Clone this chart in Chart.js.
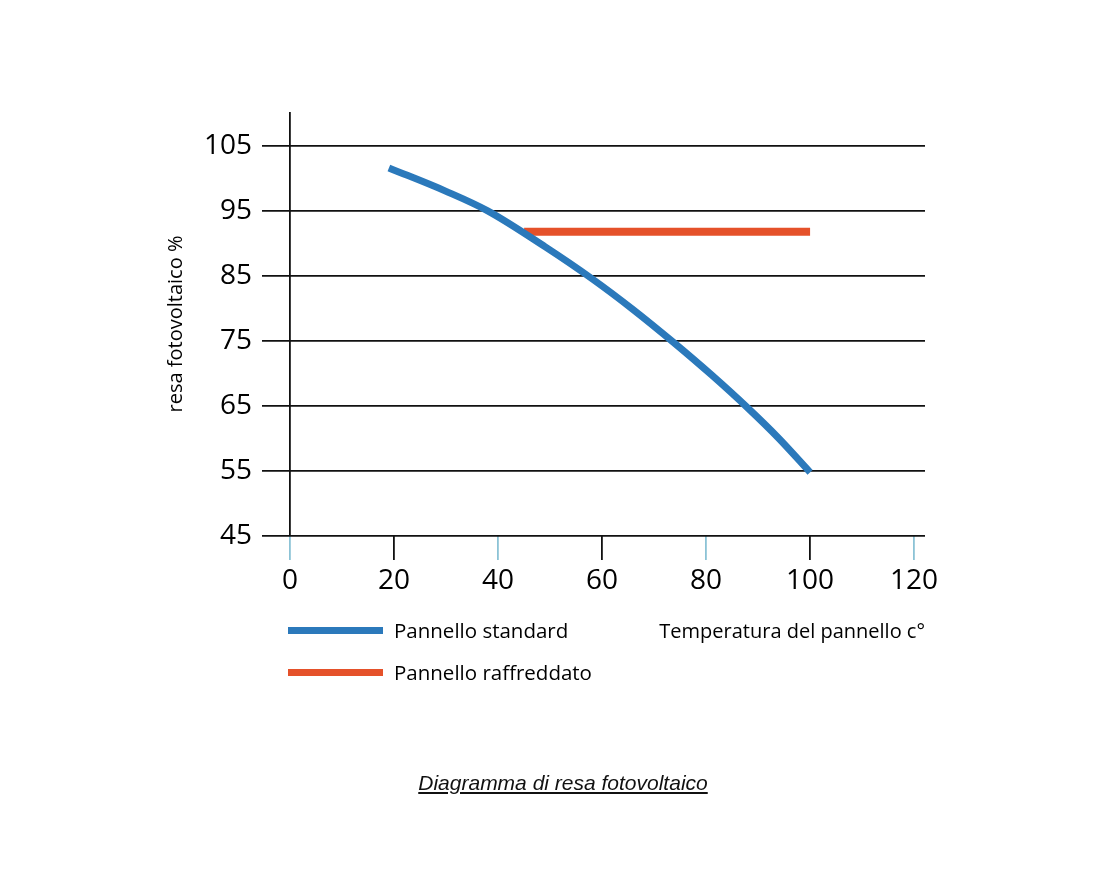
<!DOCTYPE html>
<html lang="it">
<head>
<meta charset="utf-8">
<title>Diagramma di resa fotovoltaico</title>
<script src="https://cdn.jsdelivr.net/npm/chart.js@4.4.1/dist/chart.umd.min.js"></script>
<style>
  body { margin: 0; background: #fff; }
  #wrap { position: relative; width: 1100px; height: 892px; }
  #chart { position: absolute; left: 0; top: 0; }
  .legend-row { position: absolute; left: 288px; height: 24px; display: flex; align-items: center;
    font-family: "Open Sans", sans-serif; font-size: 20.5px; color: #000; }
  .legend-row .swatch { width: 95px; height: 7px; margin-right: 11px; }
  #caption { position: absolute; left: 0; width: 1126px; top: 771px; text-align: center;
    font-family: "Liberation Sans", Arial, sans-serif; font-style: italic; font-size: 21px;
    color: #111; text-decoration: underline; }
</style>
</head>
<body>
<div id="wrap">
  <canvas id="chart" width="1100" height="892"></canvas>
  <div id="legend"></div>
  <div id="caption">Diagramma di resa fotovoltaico</div>
</div>
<script>
// values
const xTicks = [0, 20, 40, 60, 80, 100, 120];
const yTicks = [45, 55, 65, 75, 85, 95, 105];

const stdTemp = [19, 30, 38, 49, 58, 66, 74, 81, 88, 94, 100];
const stdYield = [101.6, 98.0, 95.0, 89.5, 84.6, 79.8, 74.6, 69.8, 64.7, 60.0, 54.8];

const coolTemp = [45, 100];
const coolYield = [91.8, 91.8];

const seriesLabels = ["Pannello standard", "Pannello raffreddato"];
const seriesColors = ["#2b79bb", "#e5512a"];

const FONT = "'Open Sans', sans-serif";

const toPoints = (xs, ys) => xs.map((x, i) => ({ x, y: ys[i] }));

const chart = new Chart(document.getElementById("chart"), {
  type: "line",
  data: {
    datasets: [
      {
        label: seriesLabels[0],
        data: toPoints(stdTemp, stdYield),
        borderColor: seriesColors[0],
        borderWidth: 7,
        borderCapStyle: "butt",
        cubicInterpolationMode: "monotone",
        pointRadius: 0,
        order: 0,
      },
      {
        label: seriesLabels[1],
        data: toPoints(coolTemp, coolYield),
        borderColor: seriesColors[1],
        borderWidth: 8,
        borderCapStyle: "butt",
        pointRadius: 0,
        order: 1,
      },
    ],
  },
  options: {
    responsive: false,
    animation: false,
    layout: { padding: { left: 0, top: 112, right: 175, bottom: 248 } },
    plugins: { legend: { display: false }, tooltip: { enabled: false } },
    scales: {
      x: {
        type: "linear",
        min: -5.4,
        max: 122.1,
        afterBuildTicks: (s) => { s.ticks = xTicks.map((v) => ({ value: v })); },
        afterFit: (s) => { s.height = 108; },
        border: { display: false },
        grid: {
          drawOnChartArea: true,
          drawTicks: true,
          tickLength: 24,
          lineWidth: 1.8,
          color: (ctx) => (ctx.tick && ctx.tick.value === 0 ? "#111" : "rgba(0,0,0,0)"),
          tickColor: (ctx) => ([20, 60, 100].includes(ctx.tick && ctx.tick.value) ? "#111" : "#8cc3d6"),
        },
        ticks: {
          padding: 4,
          color: "#000",
          font: { family: FONT, size: 28 },
          maxRotation: 0,
        },
        title: {
          display: true,
          text: "Temperatura del pannello c°",
          align: "end",
          color: "#000",
          font: { family: FONT, size: 20 },
          padding: { top: 0, bottom: 0 },
        },
      },
      y: {
        min: 45,
        max: 110.2,
        afterBuildTicks: (s) => { s.ticks = yTicks.map((v) => ({ value: v })); },
        afterFit: (s) => { s.width = 262; },
        border: { display: false },
        grid: { drawTicks: false, lineWidth: 1.8, color: "#111" },
        ticks: {
          padding: 10,
          color: "#000",
          font: { family: FONT, size: 28 },
        },
        title: {
          display: true,
          text: "resa fotovoltaico %",
          color: "#000",
          font: { family: FONT, size: 20 },
          padding: { top: 164, bottom: 0 },
        },
      },
    },
  },
});

// legend rows, built from the datasets
const legendEl = document.getElementById("legend");
chart.data.datasets.forEach((ds, i) => {
  const row = document.createElement("div");
  row.className = "legend-row";
  row.style.top = 618 + i * 42 + "px";
  row.innerHTML = `<span class="swatch" style="background:${ds.borderColor}"></span><span>${ds.label}</span>`;
  legendEl.appendChild(row);
});
</script>
</body>
</html>
